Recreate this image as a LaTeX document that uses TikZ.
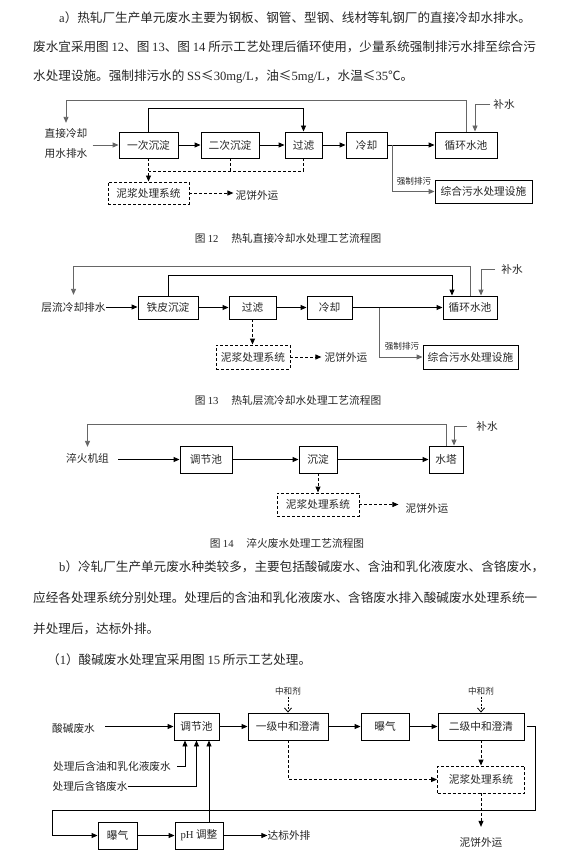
\documentclass[tikz,border=0pt]{standalone}
\usepackage{fontspec}
\setmainfont{Noto Sans CJK SC}
\newfontfamily\lat{Liberation Serif}
\newcommand{\Lt}[1]{{\lat #1}}
\usetikzlibrary{arrows.meta,positioning}

\begin{document}
\begin{tikzpicture}[x=1pt,y=-1pt]
	\tikzstyle{Box}     = [draw, line width=0.9pt, inner sep=0pt, text=black!85, font=\fontsize{10.7}{12}\selectfont]
	\tikzstyle{DBox}    = [Box, dash pattern=on 3pt off 2pt]
	\tikzstyle{Lbl}     = [inner sep=0pt, text=black!85, font=\fontsize{10.7}{12}\selectfont]
	\tikzstyle{Tiny}    = [inner sep=0pt, text=black!85, font=\fontsize{8.6}{10}\selectfont]
	\tikzstyle{Para}    = [inner sep=0pt, anchor=west, text=black!85, font=\fontsize{12.6}{14}\selectfont]
	\tikzstyle{Flow}    = [line width=0.9pt, -{Triangle[length=6pt,width=5pt]}]
	\tikzstyle{Grey}    = [draw=black!60]
	\tikzstyle{Mud}     = [line width=0.9pt, dash pattern=on 3pt off 2pt]
	\tikzstyle{MudFlow} = [Mud, -{Triangle[length=6pt,width=5pt]}]
	\tikzstyle{Dose}    = [line width=0.8pt, dash pattern=on 2pt off 1.5pt, -{Straight Barb[length=4pt,width=7pt]}]

	\path[fill=white] (0,0) rectangle (583,858);

	% text a
	\node (ta1) at (59,18) [Para] {\Lt{a}）热轧厂生产单元废水主要为钢板、钢管、型钢、线材等轧钢厂的直接冷却水排水。};
	\node (ta2) at (33,47) [Para] {废水宜采用图 \Lt{12}、图 \Lt{13}、图 \Lt{14} 所示工艺处理后循环使用，少量系统强制排污水排至综合污};
	\node (ta3) at (33,77) [Para] {水处理设施。强制排污水的 \Lt{SS}≤\Lt{30mg/L}，油≤\Lt{5mg/L}，水温≤\Lt{35}℃。};

	% figure 12
	\node (p0) at (66,143) [Lbl, align=center] {直接冷却\\[8pt]用水排水};
	\node (p1) at (148.5,145) [Box, minimum width=59, minimum height=26] {一次沉淀};
	\node (p2) at (230,145) [Box, minimum width=58, minimum height=26] {二次沉淀};
	\node (p3) at (303.5,145) [Box, minimum width=37, minimum height=26] {过滤};
	\node (p4) at (366.5,145) [Box, minimum width=41, minimum height=26] {冷却};
	\node (p5) at (466,145) [Box, minimum width=62, minimum height=26] {循环水池};
	\node (p6) at (483.5,191.5) [Box, minimum width=97, minimum height=23] {综合污水处理设施};
	\node (p7) at (148.5,193) [DBox, minimum width=81, minimum height=22] {泥浆处理系统};
	\node (m1) at (504,104) [Lbl] {补水};
	\node (r1) at (414,181) [Tiny] {强制排污};
	\node (s1) at (257,195) [Lbl] {泥饼外运};
	\coordinate (q1) at (392,145);
	\coordinate (q2) at (148.5,171);

	\draw[Flow, Grey, shorten >=5pt] (p5.north) -- ++(0,-31) -| (p0.north);
	\draw[Flow] (p1.north) -- ++(0,-23) -| (p3.north);
	\draw[Flow, Grey, shorten <=3pt] (m1.west) -| ([xshift=9pt]p5.north);
	\draw[Flow, Grey, shorten <=5pt] (p0.east |- p1.west) -- (p1.west);
	\draw[Flow] (p1) -- (p2);
	\draw[Flow] (p2) -- (p3);
	\draw[Flow] (p3) -- (p4);
	\draw[Flow] (p4) -- (p5);
	\draw[Flow, Grey] (q1) |- (p6.west);
	\draw[Mud] (p3.south) |- (q2);
	\draw[Mud] (p2.south) -- (p2.south |- q2);
	\draw[MudFlow] (p1.south) -- (p7.north);
	\draw[MudFlow, shorten >=2pt] (p7.east) -- (p7.east -| s1.west);

	\node (c12) at (288,238) [Lbl] {图 \Lt{12}\hspace{1.2em}热轧直接冷却水处理工艺流程图};

	% figure 13
	\node (l0) at (73.5,307) [Lbl] {层流冷却排水};
	\node (l1) at (168,307.5) [Box, minimum width=60, minimum height=23] {铁皮沉淀};
	\node (l2) at (252.5,307.5) [Box, minimum width=47, minimum height=23] {过滤};
	\node (l3) at (329.5,307.5) [Box, minimum width=45, minimum height=23] {冷却};
	\node (l4) at (470,307.5) [Box, minimum width=54, minimum height=23] {循环水池};
	\node (l5) at (470.5,357) [Box, minimum width=95, minimum height=24] {综合污水处理设施};
	\node (l6) at (253,357) [DBox, minimum width=74, minimum height=24] {泥浆处理系统};
	\node (m2) at (512,269) [Lbl] {补水};
	\node (r2) at (402,346) [Tiny] {强制排污};
	\node (s2) at (346,357) [Lbl] {泥饼外运};
	\coordinate (q3) at (379,307.5);

	\draw[Flow, Grey, shorten >=7pt] (l4.north) -- ++(0,-29) -| (l0.north);
	\draw[Flow] (l1.north) -- ++(0,-20) -| ([xshift=-18pt]l4.north);
	\draw[Flow, Grey, shorten <=6pt] (m2.west) -| ([xshift=11pt]l4.north);
	\draw[Flow] (l0.east) -- (l0.east -| l1.west);
	\draw[Flow] (l1) -- (l2);
	\draw[Flow] (l2) -- (l3);
	\draw[Flow] (l3) -- (l4);
	\draw[Flow, Grey] (q3) |- (l5.west);
	\draw[MudFlow] (l2.south) -- (l2.south |- l6.north);
	\draw[MudFlow, shorten >=3pt] (l6.east) -- (l6.east -| s2.west);

	\node (c13) at (288,400) [Lbl] {图 \Lt{13}\hspace{1.2em}热轧层流冷却水处理工艺流程图};

	% figure 14
	\node (h0) at (87.5,458) [Lbl] {淬火机组};
	\node (h1) at (206,459.5) [Box, minimum width=52, minimum height=27] {调节池};
	\node (h2) at (318,459.5) [Box, minimum width=38, minimum height=27] {沉淀};
	\node (h3) at (446,459.5) [Box, minimum width=34, minimum height=27] {水塔};
	\node (h4) at (318,504.5) [DBox, minimum width=82, minimum height=23] {泥浆处理系统};
	\node (m3) at (487,426) [Lbl] {补水};
	\node (s3) at (427,508) [Lbl] {泥饼外运};

	\draw[Flow, Grey, shorten >=6pt] (h3.north) -- ++(0,-21) -| (h0.north);
	\draw[Flow, Grey, shorten <=9pt] (m3.west) -| ([xshift=8pt]h3.north);
	\draw[Flow, shorten <=9pt] (h1.west -| h0.east) -- (h1.west);
	\draw[Flow] (h1) -- (h2);
	\draw[Flow] (h2) -- (h3);
	\draw[MudFlow] (h2.south) -- (h4.north);
	\draw[MudFlow, shorten >=7pt] (h4.east) -- (h4.east -| s3.west);

	\node (c14) at (287,543) [Lbl] {图 \Lt{14}\hspace{1.2em}淬火废水处理工艺流程图};

	% text b
	\node (tb1) at (59,567) [Para] {\Lt{b}）冷轧厂生产单元废水种类较多，主要包括酸碱废水、含油和乳化液废水、含铬废水，};
	\node (tb2) at (33,598) [Para] {应经各处理系统分别处理。处理后的含油和乳化液废水、含铬废水排入酸碱废水处理系统一};
	\node (tb3) at (33,629) [Para] {并处理后，达标外排。};
	\node (tb4) at (47,660) [Para] {（\Lt{1}）酸碱废水处理宜采用图 \Lt{15} 所示工艺处理。};

	% figure 15
	\node (k0) at (73.5,728) [Lbl] {酸碱废水};
	\node (k1) at (196.5,726.5) [Box, minimum width=45, minimum height=27] {调节池};
	\node (k2) at (288,726.5) [Box, minimum width=80, minimum height=27] {一级中和澄清};
	\node (k3) at (385,726.5) [Box, minimum width=48, minimum height=27] {曝气};
	\node (k4) at (481,726.5) [Box, minimum width=86, minimum height=27] {二级中和澄清};
	\node (k5) at (481,779.5) [DBox, minimum width=87, minimum height=27] {泥浆处理系统};
	\node (k6) at (117.5,835.5) [Box, minimum width=39, minimum height=27] {曝气};
	\node (k7) at (199,835.5) [Box, minimum width=48, minimum height=27] {\Lt{pH} 调整};
	\node (k8) at (289,835.5) [Lbl] {达标外排};
	\node (k9) at (112,766) [Lbl] {处理后含油和乳化液废水};
	\node (k10) at (90,786) [Lbl] {处理后含铬废水};
	\node (n1) at (288,691) [Tiny] {中和剂};
	\node (n2) at (481,691) [Tiny] {中和剂};
	\node (s4) at (481,842) [Lbl] {泥饼外运};
	\coordinate (q5) at (535,810);
	\coordinate (q6) at (52,810);

	\draw[Flow, shorten <=10pt] (k1.west -| k0.east) -- (k1.west);
	\draw[Flow] (k1) -- (k2);
	\draw[Flow] (k2) -- (k3);
	\draw[Flow] (k3) -- (k4);
	\draw[Dose, shorten <=1.5pt] (n1.south) -- (k2.north);
	\draw[Dose, shorten <=1.5pt] (n2.south) -- (k4.north);
	\draw[Flow, shorten <=6pt] (k9.east) -| ([xshift=-11.5pt]k1.south);
	\draw[Flow] (k10.east) -| (k1.south);
	\draw[Flow] ([xshift=10pt]k7.north) -- ([xshift=10pt]k7.north |- k1.south);
	\draw[Flow, shorten <=2.5pt] (k4.east) -| (q5) -- (q6) |- (k6.west);
	\draw[Flow] (k6) -- (k7);
	\draw[Flow] (k7.east) -- (k8.west);
	\draw[MudFlow] (k2.south) |- (k5.west);
	\draw[MudFlow] (k4.south) -- (k5.north);
	\draw[MudFlow, shorten >=10pt] (k5.south) -- (k5.south |- s4.north);
\end{tikzpicture}
\end{document}
